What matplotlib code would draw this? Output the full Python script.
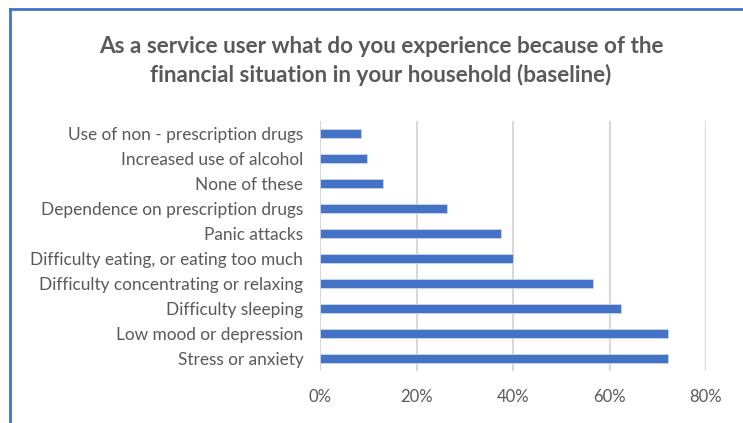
import matplotlib
matplotlib.use("Agg")
import matplotlib.pyplot as plt
from matplotlib.lines import Line2D
from matplotlib.ticker import PercentFormatter

categories = [
    "Stress or anxiety",
    "Low mood or depression",
    "Difficulty sleeping",
    "Difficulty concentrating or relaxing",
    "Difficulty eating, or eating too much",
    "Panic attacks",
    "Dependence on prescription drugs",
    "None of these",
    "Increased use of alcohol",
    "Use of non - prescription drugs",
]
values = [0.721, 0.721, 0.623, 0.566, 0.399, 0.376, 0.264, 0.131, 0.097, 0.086]
xticks = [0, 0.2, 0.4, 0.6, 0.8]
title = "As a service user what do you experience because of the\nfinancial situation in your household (baseline)"

plt.rcParams['font.family'] = ['Lato', 'DejaVu Sans']
W, H = 743, 423
fig = plt.figure(figsize=(W/100, H/100), dpi=100)
ax = fig.add_axes([320/W, 1-371/H, (706-320)/W, 250/H])

txt = '#595959'
ax.barh(range(len(categories)), values, height=0.37, color='#4472C4',
        edgecolor='#c9d6ee', linewidth=0.6, zorder=3)
ax.set_xlim(0, 0.8)
ax.set_ylim(-0.5, len(categories)-0.5)
ax.set_xticks(xticks)
ax.xaxis.set_major_formatter(PercentFormatter(1.0, decimals=0))
ax.set_yticks(range(len(categories)))
ax.set_yticklabels(categories, fontsize=12.4)
ax.grid(axis='x', color='#d9d9d9', linewidth=1.5, zorder=0)
for s in ax.spines.values():
    s.set_visible(False)
ax.tick_params(axis='both', length=0, colors=txt)
ax.tick_params(axis='x', pad=13, labelsize=12)
ax.tick_params(axis='y', pad=12)

fig.text(381/W, 1-61/H, title, ha='center', va='center', fontsize=16.2,
         fontweight='bold', color=txt, linespacing=1.4)

border = '#4472C4'
fig.add_artist(Line2D([10/W, 10/W], [0, 1-9/H], color=border, lw=2))
fig.add_artist(Line2D([10/W, 1], [1-9/H, 1-9/H], color=border, lw=2))

fig.savefig("out.png", dpi=100)
